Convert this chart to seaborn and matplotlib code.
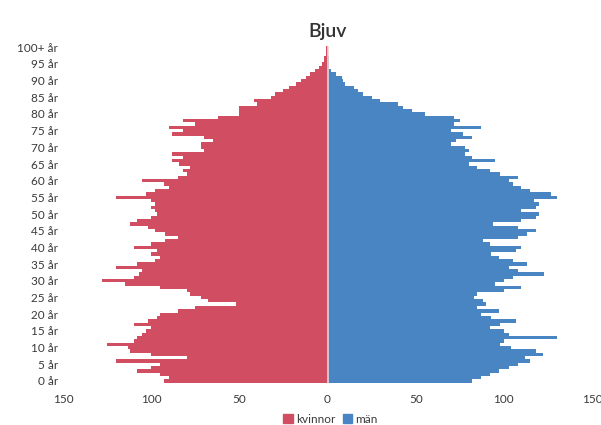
import numpy as np
import pandas as pd
import matplotlib
matplotlib.use("Agg")
import matplotlib.pyplot as plt
import seaborn as sns
from matplotlib.patches import Patch

ages = list(range(0, 101))
age_labels = [f"{a} år" for a in range(0, 100, 5)] + ["100+ år"]

kvinnor = [93, 90, 95, 108, 100, 95, 120, 80, 100, 112,
           113, 125, 110, 108, 105, 103, 100, 110, 102, 97,
           95, 85, 75, 52, 68, 72, 78, 80, 95, 115,
           128, 110, 107, 105, 120, 108, 98, 95, 100, 97,
           110, 100, 92, 85, 92, 98, 102, 112, 108, 100,
           97, 98, 100, 98, 100, 120, 103, 98, 90, 93,
           105, 85, 80, 82, 78, 84, 88, 82, 88, 70,
           72, 72, 65, 70, 88, 82, 90, 75, 82, 62,
           50, 50, 50, 40, 42, 32, 30, 25, 22, 18,
           15, 12, 10, 7, 5, 3, 2, 2, 1, 1, 1]

man = [82, 87, 92, 97, 103, 108, 115, 112, 122, 118,
       104, 98, 100, 130, 103, 100, 92, 98, 107, 93,
       87, 97, 85, 90, 88, 83, 85, 100, 110, 95,
       100, 105, 123, 108, 103, 113, 105, 97, 93, 107,
       110, 92, 88, 108, 113, 118, 108, 94, 110, 118,
       120, 110, 118, 120, 117, 130, 127, 115, 110, 105,
       103, 108, 98, 92, 85, 80, 95, 82, 78, 80,
       78, 70, 73, 82, 77, 70, 87, 72, 75, 72,
       55, 48, 43, 40, 30, 25, 20, 17, 15, 10,
       9, 8, 5, 2, 1, 1, 1, 1, 0, 0, 0]

df = pd.DataFrame({
    "age": ages * 2,
    "antal": [-v for v in kvinnor] + man,
    "kon": ["kvinnor"] * len(ages) + ["män"] * len(ages),
})

colors = {"kvinnor": "#d14e62", "män": "#4a85c3"}

sns.set_style("white")
plt.rcParams["font.family"] = ["Lato", "DejaVu Sans"]

fig = plt.figure(figsize=(6.01, 4.25), dpi=100)
ax = fig.add_axes([0.105, 0.0998, 0.88, 0.793])

sns.barplot(data=df, x="antal", y="age", hue="kon", orient="h", native_scale=True,
            palette=colors, saturation=1, dodge=False, width=1.0, linewidth=0,
            legend=False, ax=ax)

ax.axvline(0, color="#f0d3d8", lw=1.2)

ax.set_xlim(-150, 150)
ax.set_ylim(-0.5, 100.5)
ax.set_xticks([-150, -100, -50, 0, 50, 100, 150])
ax.set_xticklabels(["150", "100", "50", "0", "50", "100", "150"])
ax.set_yticks(list(range(0, 101, 5)))
ax.set_yticklabels(age_labels)
ax.tick_params(axis="both", labelsize=8.5, colors="#3a3a3a", length=0)
ax.tick_params(axis="x", pad=8)
ax.set_xlabel("")
ax.set_ylabel("")
sns.despine(ax=ax, left=True, bottom=True)

ax.set_title("Bjuv", fontsize=14, color="#333333", fontweight="semibold", pad=6)

handles = [Patch(color=colors["kvinnor"], label="kvinnor"),
           Patch(color=colors["män"], label="män")]
fig.legend(handles=handles, loc="lower center", ncol=2, frameon=False,
           fontsize=8.5, handlelength=0.8, handleheight=0.8, columnspacing=0.6,
           handletextpad=0.3, bbox_to_anchor=(0.55, -0.025), labelcolor="#3a3a3a")

fig.savefig("out.png", dpi=100)
